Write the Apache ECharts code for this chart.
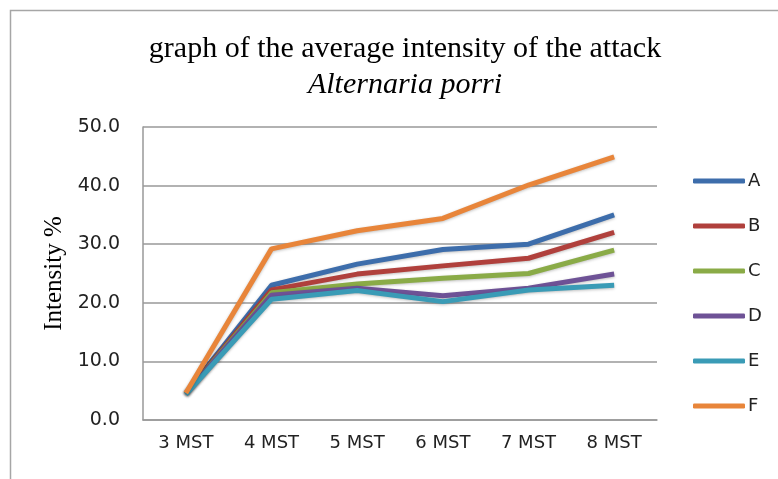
<!DOCTYPE html>
<html>
<head>
<meta charset="utf-8">
<script src="https://cdn.jsdelivr.net/npm/echarts@6/dist/echarts.min.js"></script>
<style>
  html, body { margin: 0; padding: 0; background: #fff; }
  #chart { width: 778px; height: 479px; }
</style>
</head>
<body>
<div id="chart"></div>
<script>
// data
var categories = ['3 MST', '4 MST', '5 MST', '6 MST', '7 MST', '8 MST'];
var seriesA = [4.5, 23.0, 26.6, 29.1, 30.0, 35.0];
var seriesB = [4.5, 22.2, 24.9, 26.3, 27.6, 32.0];
var seriesC = [4.5, 21.7, 23.2, 24.2, 25.0, 29.0];
var seriesD = [4.5, 21.3, 22.5, 21.2, 22.5, 24.9];
var seriesE = [4.4, 20.6, 22.1, 20.2, 22.2, 23.0];
var seriesF = [4.6, 29.2, 32.3, 34.4, 40.1, 44.9];
var names = ['A', 'B', 'C', 'D', 'E', 'F'];
var colors = ['#3d6dab', '#b0403c', '#8aab47', '#6e5296', '#3a9bb6', '#e8853a'];

var dom = document.getElementById('chart');
var myChart = echarts.init(dom, null, { renderer: 'canvas' });

function makeLine(name, data, color) {
    return {
        name: name,
        type: 'line',
        data: data,
        symbol: 'none',
        showSymbol: false,
        animation: false,
        itemStyle: { color: color },
        lineStyle: {
            width: 5,
            color: color,
            shadowColor: 'rgba(0,0,0,0.25)',
            shadowBlur: 3,
            shadowOffsetY: 1
        }
    };
}

var allData = [seriesA, seriesB, seriesC, seriesD, seriesE, seriesF];
var series = [];
for (var i = 0; i < names.length; i++) {
    series.push(makeLine(names[i], allData[i], colors[i]));
}

var option = {
    backgroundColor: '#fff',
    animation: false,
    title: {
        text: 'graph of the average intensity of the attack',
        subtext: 'Alternaria porri',
        left: 400,
        textAlign: 'center',
        top: 29,
        itemGap: 6,
        textStyle: {
            fontFamily: 'Liberation Serif',
            fontSize: 30,
            fontWeight: 'normal',
            color: '#000'
        },
        subtextStyle: {
            fontFamily: 'Liberation Serif',
            fontSize: 30,
            fontStyle: 'italic',
            color: '#000'
        }
    },
    graphic: [
        {
            type: 'polyline',
            shape: { points: [[10.5, 485], [10.5, 10.5], [790, 10.5]] },
            style: { stroke: '#a6a6a6', lineWidth: 1.5, fill: null },
            silent: true
        }
    ],
    legend: {
        orient: 'vertical',
        left: 688,
        top: 167,
        itemWidth: 52,
        itemHeight: 5,
        itemGap: 27,
        icon: 'roundRect',
        textStyle: {
            fontFamily: 'DejaVu Sans',
            fontSize: 18,
            lineHeight: 16,
            color: '#222',
            padding: [0, 0, 0, -2]
        },
        data: names
    },
    grid: {
        left: 143,
        right: 121,
        top: 127,
        bottom: 59
    },
    xAxis: {
        type: 'category',
        data: categories,
        boundaryGap: true,
        axisLine: { show: true, lineStyle: { color: '#999', width: 1.5 } },
        axisTick: { show: false },
        axisLabel: {
            margin: 14,
            fontFamily: 'DejaVu Sans',
            fontSize: 18,
            color: '#222'
        }
    },
    yAxis: {
        type: 'value',
        min: 0,
        max: 50,
        interval: 10,
        name: 'Intensity %',
        nameLocation: 'middle',
        nameGap: 74,
        nameTextStyle: {
            fontFamily: 'Liberation Serif',
            fontSize: 25,
            color: '#000'
        },
        axisLine: { show: true, lineStyle: { color: '#999', width: 1.5 } },
        axisTick: { show: false },
        splitLine: { show: true, lineStyle: { color: '#999', width: 1.5 } },
        axisLabel: {
            margin: 23,
            fontFamily: 'DejaVu Sans',
            fontSize: 19,
            color: '#222',
            formatter: function (v) { return v.toFixed(1); }
        }
    },
    series: series
};

myChart.setOption(option);
</script>
</body>
</html>
